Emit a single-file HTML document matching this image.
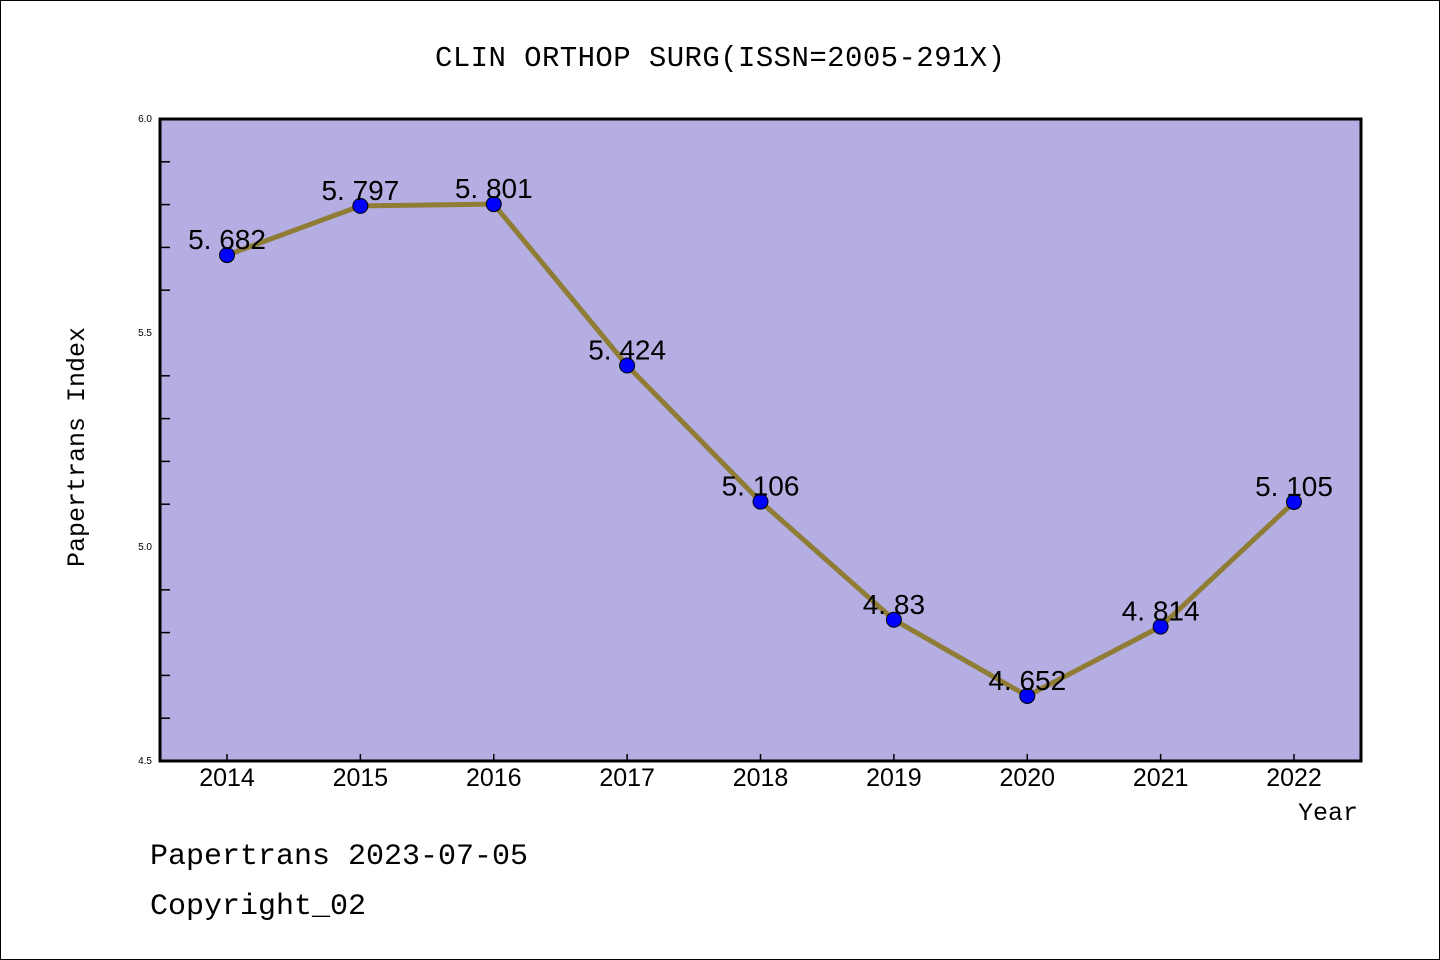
<!DOCTYPE html>
<html><head><meta charset="utf-8"><style>
html,body{margin:0;padding:0;background:#fff}
svg{display:block}
text{font-family:"Liberation Mono","WenQuanYi Zen Hei",monospace}
text.s{font-family:"Liberation Sans","WenQuanYi Zen Hei",sans-serif}
</style></head><body>
<svg id="c" width="1440" height="960">
<rect x="0.5" y="0.5" width="1439" height="959" fill="#fff" stroke="#000"/>
<text x="720" y="66" text-anchor="middle" font-size="29" textLength="570">CLIN ORTHOP SURG(ISSN=2005-291X)</text>
<rect x="160" y="119" width="1201" height="642" fill="#b5aee2" stroke="#000" stroke-width="3"/>
<text transform="translate(84,447) rotate(-90)" text-anchor="middle" font-size="25">Papertrans Index</text>
<text x="1358" y="820" text-anchor="end" font-size="25">Year</text>
<text x="150" y="864" font-size="30">Papertrans 2023-07-05</text>
<text x="150" y="914" font-size="30">Copyright_02</text>
<g id="g"></g>
</svg>
<script>
const years=["2014","2015","2016","2017","2018","2019","2020","2021","2022"];
const values=[5.682,5.797,5.801,5.424,5.106,4.83,4.652,4.814,5.105];
const labels=["5.682","5.797","5.801","5.424","5.106","4.83","4.652","4.814","5.105"];
const yTicks=["4.5","5.0","5.5","6.0"];
const NS="http://www.w3.org/2000/svg";
const g=document.getElementById('g');
const yMin=4.5,yMax=6.0,plotTop=119,plotBot=761;
function yS(v){return plotBot-(v-yMin)/(yMax-yMin)*(plotBot-plotTop);}
function xS(i){return 227+i*(1294-227)/(years.length-1);}
function mk(t,a){const e=document.createElementNS(NS,t);for(const k in a)e.setAttribute(k,a[k]);g.appendChild(e);return e;}
for(let k=0;k<=15;k++){const v=yMin+k*0.1;if(k%5===0)continue;
 const t=mk('line',{x1:160,x2:170,y1:yS(v),y2:yS(v),stroke:'#000','stroke-width':1.5});
 
 }
yTicks.forEach(s=>{const t=mk('text',{x:152,y:yS(+s)+3,'text-anchor':'end','font-size':10,'class':'s'});t.textContent=s;
 
 });
years.forEach((s,i)=>{
 const l=mk('line',{x1:xS(i),x2:xS(i),y1:plotBot,y2:plotBot-7,stroke:'#000','stroke-width':1.5});
 
 
 const t=mk('text',{x:xS(i),y:786,'text-anchor':'middle','font-size':25,'class':'s'});t.textContent=s;
 
 });
const line=mk('polyline',{points:values.map((v,i)=>xS(i)+','+yS(v)).join(' '),fill:'none',stroke:'#8f7c35','stroke-width':5});


values.forEach((v,i)=>{
 const c=mk('circle',{cx:xS(i),cy:yS(v),r:7.5,fill:'#0000ff',stroke:'#000','stroke-width':1});
 
 
 const t=mk('text',{x:xS(i),y:yS(v)-6,'text-anchor':'middle','font-size':28,'class':'s'});t.textContent=labels[i].replace('.','. ');
 
 });
</script>
</body></html>
